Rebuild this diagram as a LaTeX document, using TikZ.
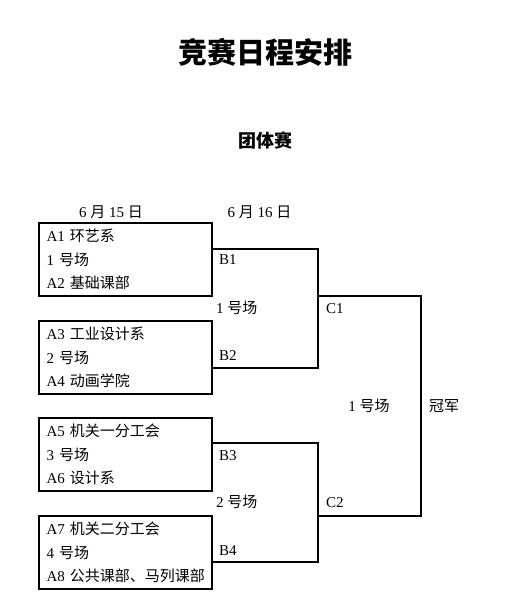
\documentclass[tikz,border=0pt]{standalone}
\usepackage{fontspec}
\setmainfont{Liberation Serif}
\newfontfamily\cjk{Noto Sans CJK SC}
\newcommand{\zh}[1]{{\cjk #1}}
\tikzset{
  team/.style={draw, line width=2pt, outer sep=0pt, anchor=north west,
    minimum width=173pt, minimum height=73pt, text width=157pt, inner xsep=8pt,
    align=left, font=\fontsize{15}{23.5}\selectfont},
  bracket/.style={line width=2pt},
  lbl/.style={anchor=west, inner sep=0pt, font=\fontsize{15}{18}\selectfont},
}
\begin{document}
\begin{tikzpicture}[x=1pt,y=-1pt]
      \useasboundingbox (0,0) rectangle (530,616);
      \node[font=\cjk\bfseries\fontsize{29}{34}\selectfont] (title) at (265.5,52) {竞赛日程安排};
      \node[font=\cjk\bfseries\fontsize{18}{22}\selectfont] (sub) at (265.5,141) {团体赛};
      \node[lbl,anchor=center] (d1) at (111,212) {6 \zh{月} 15 \zh{日}};
      \node[lbl,anchor=center] (d2) at (259.5,212) {6 \zh{月} 16 \zh{日}};

      % first round
      \node[team] (m1) at (38.5,223) {A1 \zh{环艺系}\\1 \zh{号场}\\A2 \zh{基础课部}};
      \node[team] (m2) at (38.5,321) {A3 \zh{工业设计系}\\2 \zh{号场}\\A4 \zh{动画学院}};
      \node[team] (m3) at (38.5,418) {A5 \zh{机关一分工会}\\3 \zh{号场}\\A6 \zh{设计系}};
      \node[team] (m4) at (38.5,516) {A7 \zh{机关二分工会}\\4 \zh{号场}\\\mbox{A8 \zh{公共课部、马列课部}}};

      % second round
      \coordinate (j1) at (318,249);
      \coordinate (j2) at (318,368);
      \coordinate (j3) at (318,443);
      \coordinate (j4) at (318,562);
      \draw[bracket] (m1.east |- j1) -- (j1) -- (j2) -- (m2.east |- j2);
      \draw[bracket] (m3.east |- j3) -- (j3) -- (j4) -- (m4.east |- j4);
      \node[lbl] (b1) at (219,260) {B1};
      \node[lbl] (f1) at (216,308) {1 \zh{号场}};
      \node[lbl] (b2) at (219,356) {B2};
      \node[lbl] (b3) at (219,456) {B3};
      \node[lbl] (f2) at (216,502) {2 \zh{号场}};
      \node[lbl] (b4) at (219,551) {B4};

      % final
      \coordinate (k1) at (421,296);
      \coordinate (k2) at (421,516);
      \draw[bracket] (j1 |- k1) -- (k1) -- (k2) -- (j3 |- k2);
      \node[lbl] (c1) at (326,309) {C1};
      \node[lbl] (c2) at (326,503) {C2};
      \node[lbl,anchor=center] (f3) at (369,406) {1 \zh{号场}};
      \node[lbl] (win) at (429,406) {\zh{冠军}};
    \end{tikzpicture}
\end{document}
